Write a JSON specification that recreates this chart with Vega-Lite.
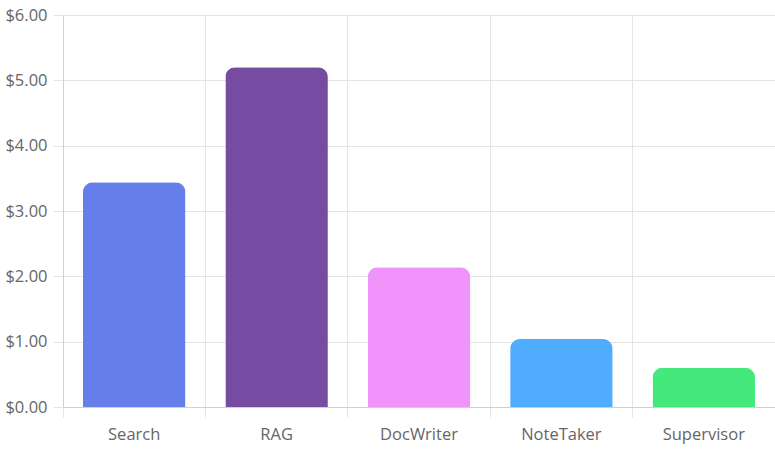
{
  "$schema": "https://vega.github.io/schema/vega-lite/v6.json",
  "autosize": "none",
  "width": 712,
  "height": 392,
  "padding": {"left": 63, "top": 15, "right": 0, "bottom": 43},
  "background": "white",
  "data": {"values": [
    {"agent": "Search", "cost": 3.44, "color": "#667EEA"},
    {"agent": "RAG", "cost": 5.2, "color": "#764BA2"},
    {"agent": "DocWriter", "cost": 2.14, "color": "#F093FB"},
    {"agent": "NoteTaker", "cost": 1.04, "color": "#4FACFE"},
    {"agent": "Supervisor", "cost": 0.6, "color": "#43E97B"}
  ]},
  "config": {
    "view": {"stroke": null},
    "axis": {"labelFont": "Open Sans", "labelFontSize": 16.5, "labelColor": "#666666", "gridColor": "#e5e5e5", "domainColor": "#d0d0d0", "tickColor": "#e5e5e5", "tickSize": 10}
  },
  "mark": {"type": "bar", "width": {"band": 0.72}, "cornerRadiusTopLeft": 10, "cornerRadiusTopRight": 10},
  "encoding": {
    "x": {"field": "agent", "type": "nominal", "sort": null, "title": null,
      "scale": {"paddingInner": 0, "paddingOuter": 0},
      "axis": {"labelAngle": 0, "bandPosition": 0, "grid": true, "ticks": true, "labelPadding": 9, "labelBound": false}},
    "y": {"field": "cost", "type": "quantitative", "title": null,
      "scale": {"domain": [0, 6], "nice": false},
      "axis": {"values": [0, 1, 2, 3, 4, 5, 6], "format": "$.2f", "labelPadding": 6, "grid": true}},
    "color": {"field": "color", "type": "nominal", "scale": null, "legend": null}
  }
}
